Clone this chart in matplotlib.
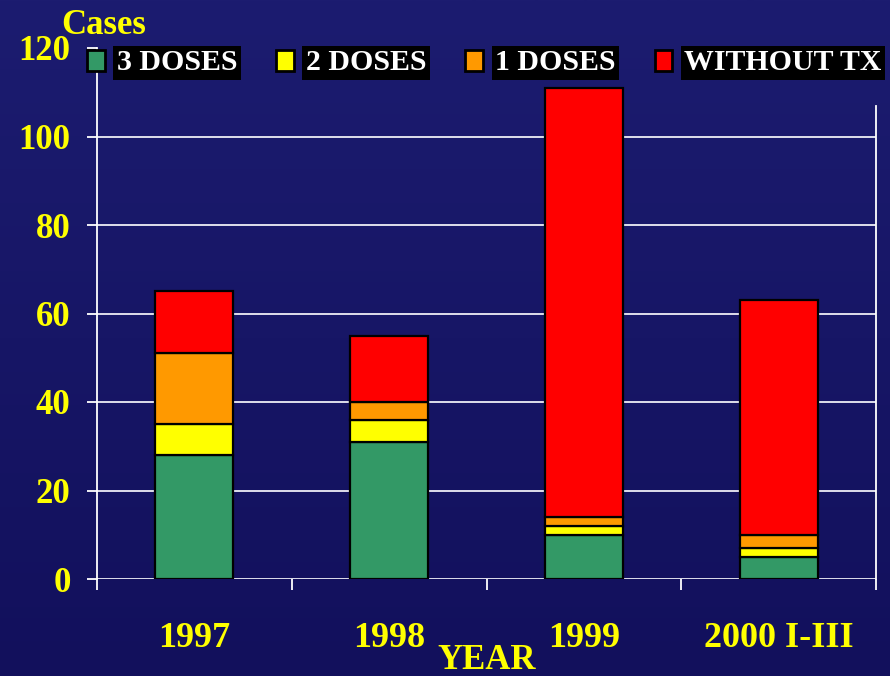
import numpy as np
import matplotlib.pyplot as plt
from matplotlib.patches import Patch

# values
years = ["1997", "1998", "1999", "2000 I-III"]
doses3 = [28, 31, 10, 5]
doses2 = [7, 5, 2, 2]
doses1 = [16, 4, 2, 3]
without_tx = [14, 15, 97, 53]
series_names = ["3 DOSES", "2 DOSES", "1 DOSES", "WITHOUT TX"]
series_colors = ["#339966", "#FFFF00", "#FF9900", "#FF0000"]

FONT = ["Liberation Serif", "DejaVu Serif"]
YELLOW = "#FFFF00"


def main():
    fig = plt.figure(figsize=(8.9, 6.76), dpi=100)

    # dark blue gradient background
    bg = fig.add_axes([0, 0, 1, 1], zorder=-10)
    top = np.array([28, 28, 112]) / 255
    bot = np.array([18, 16, 92]) / 255
    t = np.linspace(0, 1, 256)[:, None]
    grad = (top * (1 - t) + bot * t)[:, None, :]
    bg.imshow(grad, aspect="auto", extent=[0, 1, 0, 1])
    bg.axis("off")

    ax = fig.add_axes([97 / 890, 1 - 579 / 676, 779 / 890, 531 / 676])
    ax.set_facecolor("none")

    x = np.arange(len(years))
    bottom = np.zeros(len(years))
    for vals, color in zip([doses3, doses2, doses1, without_tx], series_colors):
        ax.bar(x, vals, width=0.4, bottom=bottom, color=color,
               edgecolor="black", linewidth=1.6, zorder=3)
        bottom += np.array(vals)

    ax.set_xlim(-0.5, len(years) - 0.5)
    ax.set_ylim(0, 120)

    # grid
    for yv in range(0, 120, 20):
        ax.axhline(yv, color="#eeeef6", lw=1.3, zorder=1)

    ax.spines["top"].set_visible(False)
    ax.spines["bottom"].set_visible(False)
    ax.spines["left"].set_color("white")
    ax.spines["left"].set_linewidth(1.3)
    ax.spines["right"].set_color("white")
    ax.spines["right"].set_linewidth(1.3)
    ax.spines["right"].set_bounds(0, 107)

    ax.set_yticks(range(0, 121, 20))
    ax.tick_params(axis="y", colors="white", length=7, width=1.3,
                   direction="out", pad=12, labelcolor=YELLOW)
    for lbl in ax.get_yticklabels():
        lbl.set_fontfamily(FONT)
        lbl.set_fontweight("bold")
        lbl.set_fontsize(25)

    ax.set_xticks(x)
    ax.set_xticklabels(years, fontfamily=FONT, fontweight="bold", fontsize=26,
                       color=YELLOW)
    ax.tick_params(axis="x", which="major", length=0, pad=31)
    ax.set_xticks(np.arange(-0.5, len(years)), minor=True)
    ax.tick_params(axis="x", which="minor", colors="white", length=8,
                   width=1.3, direction="out")

    fig.text(61 / 890, 1 - 34 / 676, "Cases", fontfamily=FONT,
             fontweight="bold", fontsize=25, color=YELLOW, ha="left",
             va="baseline")
    fig.text(487 / 890, 1 - 669 / 676, "YEAR", fontfamily=FONT,
             fontweight="bold", fontsize=25, color=YELLOW, ha="center",
             va="baseline")

    handles = [Patch(facecolor=c, edgecolor="black", linewidth=2.0)
               for c in series_colors]
    leg = ax.legend(handles, series_names, ncol=4, loc="center left",
                    bbox_to_anchor=(87 / 890, 1 - 63 / 676),
                    bbox_transform=fig.transFigure, frameon=False,
                    prop={"family": FONT, "weight": "bold", "size": 21.5},
                    handlelength=0.6, handleheight=0.7, handletextpad=0.4,
                    columnspacing=1.3, borderaxespad=0, borderpad=0)
    for txt in leg.get_texts():
        txt.set_color("white")
        txt.set_bbox(dict(facecolor="black", edgecolor="none",
                          boxstyle="square,pad=0.12"))
    leg.set_zorder(10)

    fig.savefig("out.png", dpi=100)


if __name__ == "__main__":
    main()
